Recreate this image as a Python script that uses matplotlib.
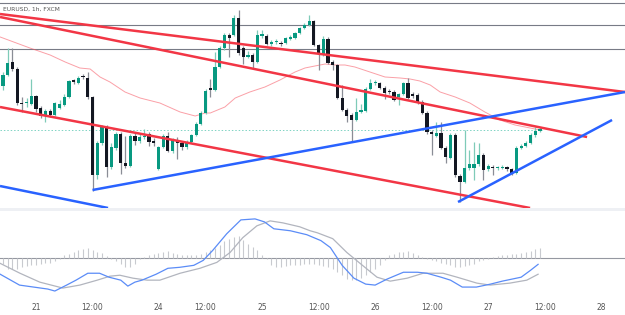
import numpy as np
import matplotlib.pyplot as plt
from matplotlib.patches import Rectangle

# EURUSD 1h, FXCM. No price scale is shown, so candle readings are taken
# in half-pip steps down from the top of the price pane.
P_TOP = 1.0880
STEP = 0.00005

first_bar = -7  # bar 0 = 21st 00:00
opens_r = [86, 75, 62, 69, 103, 103, 104, 96, 108, 116, 111, 115, 108, 105, 97, 80, 83, 76, 78, 97,
           175, 143, 127, 167, 148, 134, 163, 166, 136, 141, 137, 134, 141, 169, 147, 136, 151, 141, 143, 147,
           142, 135, 124, 113, 88, 90, 67, 48, 35, 35, 18, 48, 57, 55, 62, 36, 36, 44, 42, 43,
           43, 39, 38, 33, 28, 25, 21, 45, 55, 39, 62, 65, 98, 110, 115, 120, 112, 111, 89, 83,
           83, 88, 91, 92, 97, 94, 83, 94, 95, 102, 113, 132, 136, 133, 148, 158, 135, 176, 182, 168,
           168, 164, 155, 169, 167, 168, 168, 167, 169, 173, 148, 146, 143, 135, 131]
closes_r = [75, 63, 69, 103, 104, 102, 96, 109, 116, 111, 115, 103, 104, 97, 81, 82, 78, 77, 97, 175,
            143, 127, 167, 147, 134, 163, 166, 136, 141, 137, 136, 142, 143, 147, 136, 151, 140, 143, 147, 142,
            135, 124, 113, 91, 90, 67, 48, 35, 38, 18, 53, 57, 55, 62, 35, 34, 44, 42, 42, 44,
            38, 37, 33, 28, 25, 21, 45, 53, 39, 63, 65, 98, 110, 116, 120, 112, 110, 89, 83, 82,
            88, 93, 92, 100, 94, 83, 98, 96, 102, 113, 132, 134, 133, 148, 157, 135, 175, 182, 168, 164,
            164, 155, 170, 166, 168, 168, 167, 169, 173, 148, 146, 143, 135, 131, 129]
highs_r = [72, 48, 48, 67, 97, 98, 79, 95, 106, 109, 109, 102, 100, 94, 80, 79, 76, 74, 72, 96,
           141, 125, 125, 143, 132, 132, 136, 134, 132, 134, 129, 132, 138, 146, 134, 132, 138, 137, 141, 140,
           134, 122, 111, 89, 79, 52, 46, 33, 33, 15, 10, 46, 51, 53, 30, 30, 34, 40, 39, 41,
           37, 35, 32, 27, 23, 15, 20, 44, 36, 37, 60, 64, 85, 108, 113, 98, 104, 87, 79, 80,
           82, 86, 89, 90, 93, 82, 78, 92, 93, 100, 111, 130, 122, 122, 146, 133, 133, 174, 130, 150,
           142, 143, 153, 164, 165, 166, 165, 166, 168, 146, 144, 141, 133, 127, 127]
lows_r = [90, 76, 71, 105, 112, 107, 105, 112, 118, 122, 117, 116, 109, 106, 98, 84, 84, 79, 99, 191,
          179, 145, 177, 169, 150, 174, 168, 167, 145, 143, 139, 146, 146, 170, 148, 152, 153, 159, 150, 149,
          143, 136, 125, 114, 97, 91, 68, 50, 57, 36, 55, 64, 58, 68, 63, 38, 45, 46, 44, 46,
          44, 40, 39, 34, 29, 26, 46, 70, 56, 64, 70, 99, 111, 122, 142, 121, 113, 112, 90, 85,
          89, 99, 94, 101, 105, 95, 99, 98, 104, 114, 134, 155, 137, 149, 163, 159, 177, 202, 183, 170,
          180, 166, 180, 171, 175, 170, 169, 171, 175, 174, 149, 147, 144, 137, 132]

# moving average, read at (bar, level)
ma_bars = [-7.6, -1.3, 3.0, 6.2, 9.3, 11.5, 13.6, 15.7, 18.9, 22.1, 26.3, 30.6, 33.8, 35.9, 37.0,
           40.1, 42.3, 45.4, 48.6, 51.8, 55.0, 57.1, 59.2, 61.4, 63.5, 65.6, 67.7, 70.9, 74.1, 77.3,
           79.4, 81.5, 83.7, 85.8, 89.0, 92.1, 95.3, 98.5, 101.7, 104.9, 107.0]
ma_r = [37, 48, 55, 62, 68, 69, 77, 82, 92, 98, 103, 112, 116, 113, 113,
        107, 98, 92, 87, 80, 72, 68, 66, 64, 65, 65, 67, 72, 77, 78,
        79, 81, 85, 92, 97, 103, 112, 120, 125, 128, 130]
last_r = 130

# MACD panel, readings in 1e-5
hist = [-6, -11, -11, -11, -9, -8, -7, -7, -6, -5, -5, -3, -1, 3, 4, 7, 9, 10, 11, 9,
        6, 5, 2, -1, -3, -6, -9, -9, -6, -1, 1, 3, 4, 5, 7, 8, 5, 4, 3, 3,
        3, 3, 4, 6, 9, 11, 14, 18, 20, 22, 23, 19, 15, 12, 9, 3, -1, -7, -9, -9,
        -8, -7, -7, -7, -6, -6, -6, -7, -8, -9, -11, -14, -17, -21, -22, -22, -20, -17, -14, -11,
        -7, -2, 3, 4, 6, 7, 8, 5, 3, 1, -1, -2, -3, -5, -6, -7, -9, -9, -8, -7,
        -6, -3, -2, -1, 1, 2, 3, 3, 4, 4, 5, 6, 8, 10, 11]
macd_bars = [-7.6, -3.5, -0.5, 2.5, 4, 6.5, 8.5, 11, 13.5, 15.5, 18, 19.5, 21, 22.5, 25.5, 28,
             30.5, 33.5, 35.5, 37.5, 40.5, 43.5, 46.5, 48.5, 50.5, 54, 57.5, 60.5, 62.5, 65,
             67.5, 70, 72, 74.5, 78, 81, 83, 86, 88, 90.5, 93.5, 96.5, 99, 103, 105, 106.6]
macd = [-16, -27, -29, -31, -33, -27, -22, -15, -15, -19, -22, -28, -24, -22, -16, -10,
        -9, -7, -2, 8, 25, 39, 40, 37, 30, 28, 24, 18, 11, -7,
        -20, -26, -27, -21, -14, -14, -15, -19, -22, -29, -29, -26, -23, -19, -12, -6]
sig_bars = [-7.6, -3.4, 0.8, 5.7, 9.3, 13, 15.7, 17.8, 20.6, 23.6, 26.3, 30.6, 34.8, 38.4, 41.2,
            43.9, 46.9, 49.7, 52.4, 56, 58.2, 59.7, 63, 66, 68.8, 72.4, 75.2, 78.8, 82.2, 86.4,
            89.4, 93.6, 96.4, 100.6, 104.2, 106.6]
signal = [-5, -15, -24, -30, -27, -22, -18, -17, -20, -22, -22, -15, -10, -4, 6,
          21, 33, 38, 36, 32, 28, 26, 20, 6, -5, -19, -23, -20, -15, -15,
          -19, -25, -27, -25, -22, -16]

# drawings: (bar, level) end points
red_lines = [((-7.64, 14), (125.05, 92)),
             ((-7.64, 17), (117.0, 137)),
             ((-7.64, 107), (104.9, 208))]
blue_lines = [((-7.64, 186), (15.3, 208)),
              ((12.0, 190), (125.05, 92)),
              ((89.6, 202), (122.3, 120))]
grey_levels = [2.5, 25, 49]

tick_bars = [0, 12, 26, 36, 48, 60, 72, 84, 96, 108, 120]
tick_labels = ["21", "12:00", "24", "12:00", "25", "12:00", "26", "12:00", "27", "12:00", "28"]


def to_price(r):
    return P_TOP - STEP * np.asarray(r, dtype=float)


o, c = to_price(opens_r), to_price(closes_r)
h, l = to_price(highs_r), to_price(lows_r)
x = np.arange(first_bar, first_bar + len(o))
up = c >= o

GREEN, DARK = "#089981", "#131722"
W, H = 625, 315
fig = plt.figure(figsize=(W / 100, H / 100), dpi=100)
ax = fig.add_axes([0, (H - 208) / H, 1, 208 / H])
axm = fig.add_axes([0, (H - 293) / H, 1, 82 / H], sharex=ax)

x0, x1 = -7.64, 125.05
ax.set_xlim(x0, x1)
ax.set_ylim(to_price(208), to_price(0))

for lv in grey_levels:
    ax.axhline(to_price(lv), color="#787b86", lw=0.8, zorder=1)
ax.plot(ma_bars, to_price(ma_r), color="#f7525f", lw=0.7, alpha=0.55, zorder=2)
ax.plot([x0, x[-1] + 0.5], [to_price(last_r)] * 2, color="#7fd3c3", lw=0.7,
        ls=(0, (1.5, 2)), zorder=2)

# candles
ax.vlines(x[up], l[up], h[up], color="#7fcbb8", lw=0.9, zorder=3)
ax.vlines(x[~up], l[~up], h[~up], color="#8a8d96", lw=0.9, zorder=3)
body = np.maximum(np.abs(c - o), STEP * 0.8)
ax.bar(x[up], body[up], bottom=np.minimum(o, c)[up], width=0.68, color=GREEN, zorder=4)
ax.bar(x[~up], body[~up], bottom=np.minimum(o, c)[~up], width=0.68, color=DARK, zorder=4)

for (a, b) in red_lines:
    ax.plot([a[0], b[0]], to_price([a[1], b[1]]), color="#f23645", lw=1.8, zorder=5,
            solid_capstyle="butt")
for (a, b) in blue_lines:
    ax.plot([a[0], b[0]], to_price([a[1], b[1]]), color="#2962ff", lw=1.8, zorder=5,
            solid_capstyle="butt")

# MACD
axm.set_ylim(-35, 48)
axm.axhline(0, color="#9598a1", lw=0.8, zorder=1)
axm.vlines(x, 0, hist, color="#c8cacf", lw=0.8, zorder=2)
axm.plot(sig_bars, signal, color="#b2b5be", lw=0.9, zorder=3)
axm.plot(macd_bars, macd, color="#5b8cf7", lw=0.9, zorder=4)

for a in (ax, axm):
    for s in a.spines.values():
        s.set_visible(False)
    a.set_yticks([])
ax.tick_params(axis="x", bottom=False, labelbottom=False)
axm.set_xticks(tick_bars)
axm.set_xticklabels(tick_labels)
axm.tick_params(axis="x", length=0, pad=7, labelsize=5.5, labelcolor="#555555")

fig.add_artist(Rectangle((0, (H - 211) / H), 1, 3 / H, transform=fig.transFigure,
                         color="#eef0f4", lw=0))
fig.text(3 / W, 1 - 9 / H, "EURUSD, 1h, FXCM", fontsize=4.3, color="#555555", va="center")

fig.savefig("out.png", dpi=100)
